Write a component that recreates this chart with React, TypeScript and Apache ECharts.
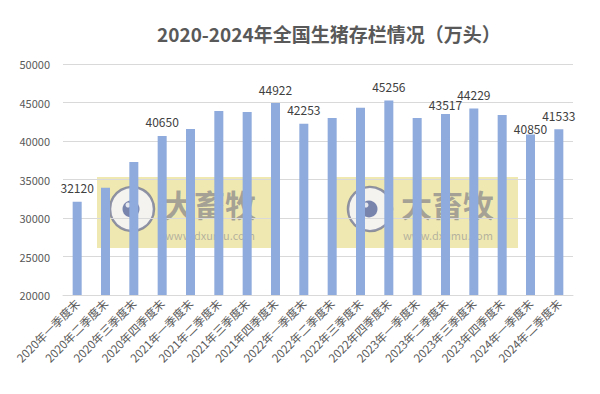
import React, { useEffect, useRef } from "react";
import * as echarts from "echarts";

const categories = [
  "2020年一季度末", "2020年二季度末", "2020年三季度末", "2020年四季度末",
  "2021年一季度末", "2021年二季度末", "2021年三季度末", "2021年四季度末",
  "2022年一季度末", "2022年二季度末", "2022年三季度末", "2022年四季度末",
  "2023年一季度末", "2023年二季度末", "2023年三季度末", "2023年四季度末",
  "2024年一季度末", "2024年二季度末",
];
const values = [
  32120, 33940, 37270, 40650,
  41560, 43900, 43770, 44922,
  42253, 42990, 44330, 45256,
  42990, 43517, 44229, 43380,
  40850, 41533,
];
// which bars carry a value label, and its distance above the bar
const labelDistances: (number | null)[] = [
  8, null, null, 8,
  null, null, null, 8,
  8, null, null, 8,
  null, 3, 8, null,
  0, 8,
];
const yTicks = { min: 20000, max: 50000, interval: 5000 };

export default function App() {
  const ref = useRef<HTMLDivElement>(null);
  useEffect(() => {
    if (!ref.current) return;
    const chart = echarts.init(ref.current, null, { renderer: "svg" });
    const font = "'Noto Sans CJK SC', 'Noto Sans', sans-serif";
    const watermark = (x: number) => ({
      type: "group",
      x,
      y: 177,
      z: 100,
      children: [
        { type: "rect", shape: { x: 0, y: 0, width: 183, height: 71 }, style: { fill: "rgba(215,198,60,0.4)" } },
        { type: "circle", shape: { cx: 35, cy: 32, r: 22 }, style: { fill: "rgba(245,245,252,0.85)", stroke: "rgba(110,115,145,0.75)", lineWidth: 2.5 } },
        { type: "circle", shape: { cx: 34, cy: 32, r: 8.5 }, style: { fill: "rgba(80,95,150,0.75)" } },
        { type: "circle", shape: { cx: 31, cy: 28, r: 2.5 }, style: { fill: "rgba(255,255,255,0.8)" } },
        { type: "text", x: 66, y: 11, style: { text: "大畜牧", font: `bold 31px ${font}`, lineHeight: 31, fill: "rgba(115,115,130,0.6)", verticalAlign: "top", align: "left" } },
        { type: "text", x: 68, y: 52, style: { text: "www.dxumu.com", font: `11px ${font}`, lineHeight: 11, fill: "rgba(130,130,140,0.55)", verticalAlign: "top", align: "left" } },
      ],
    });
    chart.setOption({
      animation: false,
      backgroundColor: "#ffffff",
      title: {
        text: "2020-2024年全国生猪存栏情况（万头）",
        left: 152,
        top: 19,
        textStyle: { fontFamily: font, fontSize: 19, fontWeight: "bold", color: "#595959" },
      },
      grid: { left: 63, right: 27, top: 64, bottom: 99 },
      xAxis: {
        type: "category",
        data: categories,
        axisLine: { lineStyle: { color: "#d9d9d9" } },
        axisTick: { show: false },
        axisLabel: { rotate: 45, interval: 0, fontSize: 11.5, color: "#595959", fontFamily: font, margin: 6 },
      },
      yAxis: {
        type: "value",
        min: yTicks.min,
        max: yTicks.max,
        interval: yTicks.interval,
        axisLabel: { fontSize: 11, color: "#595959", fontFamily: font, margin: 13, formatter: (v: number) => String(v) },
        splitLine: { lineStyle: { color: "#d9d9d9" } },
        axisLine: { show: false },
        axisTick: { show: false },
      },
      series: [
        {
          type: "bar",
          barWidth: 9,
          itemStyle: { color: "#8faadc" },
          data: values.map((v, i) => ({
            value: v,
            label: labelDistances[i] === null
              ? { show: false }
              : { show: true, position: "top", distance: labelDistances[i], fontSize: 12, color: "#404040", fontFamily: font },
          })),
        },
      ],
      graphic: [watermark(97), watermark(335)],
    });
    return () => chart.dispose();
  }, []);
  return <div ref={ref} style={{ position: "absolute", left: 0, top: 0, width: 600, height: 394 }} />;
}
